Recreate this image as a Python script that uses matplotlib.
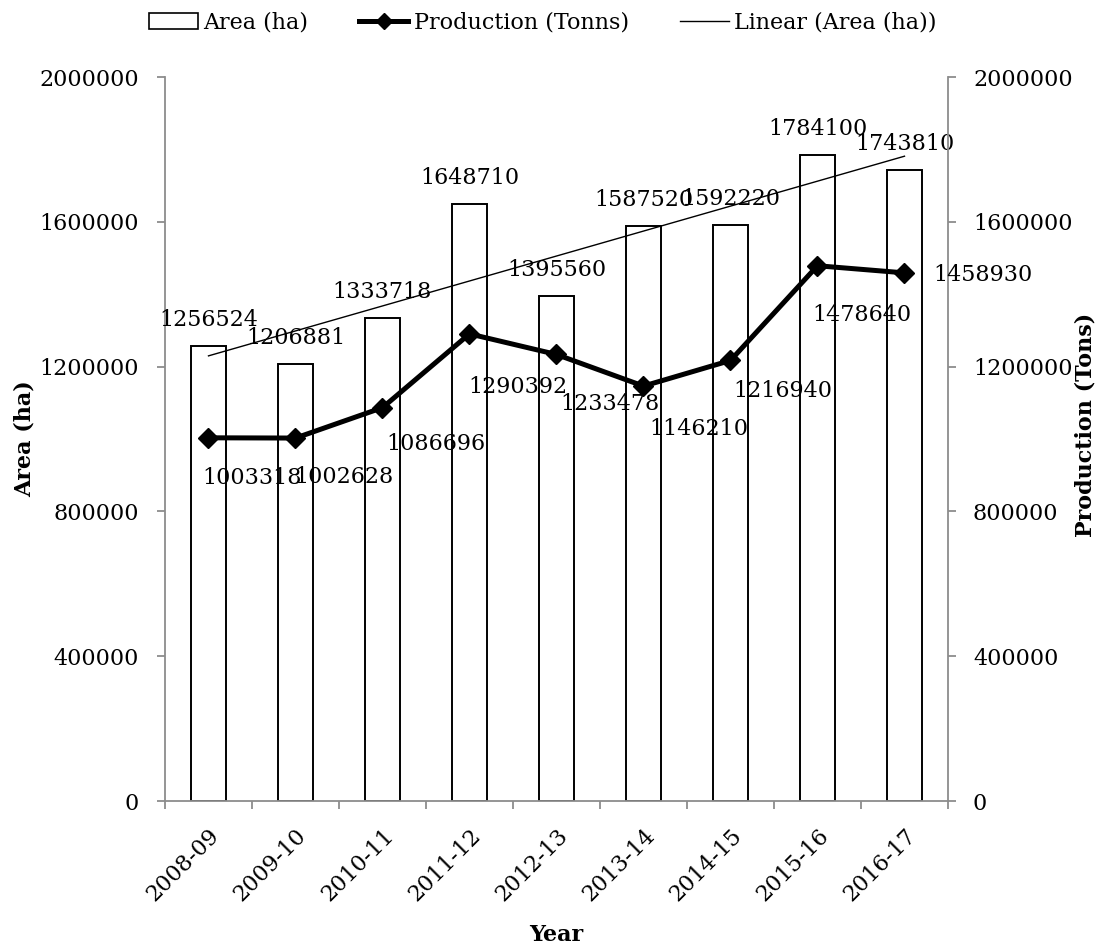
import numpy as np
import matplotlib.pyplot as plt
from matplotlib.lines import Line2D
from matplotlib.patches import Patch
from matplotlib.transforms import ScaledTranslation
from matplotlib import ticker

plt.rcParams['font.family'] = 'DejaVu Serif'
plt.rcParams['font.size'] = 16

years = ["2008-09", "2009-10", "2010-11", "2011-12", "2012-13",
         "2013-14", "2014-15", "2015-16", "2016-17"]
area_ha = [1256524, 1206881, 1333718, 1648710, 1395560,
           1587520, 1592220, 1784100, 1743810]
production_t = [1003318, 1002628, 1086696, 1290392, 1233478,
                1146210, 1216940, 1478640, 1458930]
y_ticks = [0, 400000, 800000, 1200000, 1600000, 2000000]

# hand-placed production labels (pixel offsets from each point)
prod_offsets = [(44, -40), (48, -39), (53, -36), (48, -53), (53, -50),
                (55, -43), (52, -31), (44, -49), (78, -2)]

AXIS_GREY = "#8c8c8c"

fig = plt.figure(figsize=(11.01, 9.48), dpi=100)
ax = fig.add_axes([0.14986, 0.15506, 0.71117, 0.76371])
ax2 = ax.twinx()

x = np.arange(len(years))

bars = ax.bar(x, area_ha, width=0.41, facecolor="white", edgecolor="black",
              linewidth=1.4, zorder=2)

# linear trend of the area series
coef = np.polyfit(x, area_ha, 1)
ax.plot(x, np.polyval(coef, x), color="black", linewidth=1.0, zorder=3)

for xi, v in zip(x, area_ha):
    ax.annotate(str(v), (xi, v), xytext=(0, 26), textcoords="offset pixels",
                ha="center", va="center", zorder=4)

ax2.plot(x, production_t, color="black", linewidth=3.6, marker="D",
         markersize=10, zorder=5)
for xi, v, (dx, dy) in zip(x, production_t, prod_offsets):
    ax2.annotate(str(v), (xi, v), xytext=(dx, dy), textcoords="offset pixels",
                 ha="center", va="center")

fmt = ticker.FuncFormatter(lambda v, p: f"{int(v)}")
for a in (ax, ax2):
    a.set_ylim(0, 2000000)
    a.set_yticks(y_ticks)
    a.yaxis.set_major_formatter(fmt)
    for s in a.spines.values():
        s.set_color(AXIS_GREY)
        s.set_linewidth(1.3)
    a.spines["top"].set_visible(False)
ax.spines["right"].set_visible(False)
ax2.spines["left"].set_visible(False)
ax2.spines["bottom"].set_visible(False)

ax.set_xlim(-0.5, len(years) - 0.5)
ax.set_xticks(x)
ax.set_xticklabels(years, rotation=45, ha="right", va="top",
                   rotation_mode="anchor")
shift = ScaledTranslation(-6 / 100, 0, fig.dpi_scale_trans)
for lbl in ax.get_xticklabels():
    lbl.set_transform(lbl.get_transform() + shift)
ax.set_xticks(np.arange(-0.5, len(years), 1), minor=True)
ax.tick_params(axis="x", which="major", length=0, pad=17)
ax.tick_params(axis="x", which="minor", length=6, width=1.3,
               color=AXIS_GREY, direction="out")
ax.tick_params(axis="y", length=6, width=1.3, color=AXIS_GREY, pad=13)
ax2.tick_params(axis="y", length=6, width=1.3, color=AXIS_GREY, pad=12)

ax.set_xlabel("Year", fontweight="bold", va="center")
ax.xaxis.set_label_coords(0.5, -0.185)
ax.set_ylabel("Area (ha)", fontweight="bold", va="center", ha="center")
ax.yaxis.set_label_coords(-0.179, 0.5)
ax2.set_ylabel("Production (Tons)", fontweight="bold", rotation=90,
               va="center", ha="center")
ax2.yaxis.set_label_coords(1.176, 0.519)

handles = [
    Patch(facecolor="white", edgecolor="black", linewidth=1.2),
    Line2D([], [], color="black", linewidth=3.6, marker="D", markersize=8),
    Line2D([], [], color="black", linewidth=1.0),
]
labels = ["Area (ha)", "Production (Tonns)", "Linear (Area (ha))"]
fig.legend(handles, labels, loc="center", bbox_to_anchor=(0.493, 0.976),
           ncol=3, frameon=False, handlelength=2.2, handletextpad=0.25,
           columnspacing=2.3, fontsize=16)

fig.savefig("out.png", dpi=100)
